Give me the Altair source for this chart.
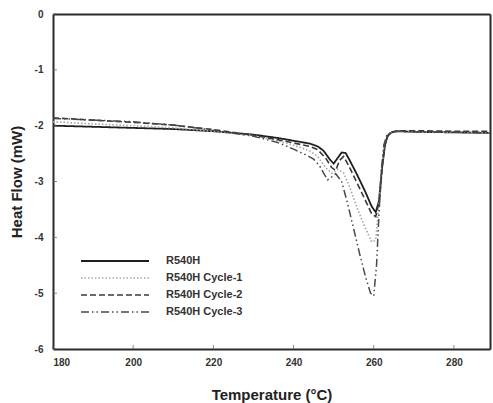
import altair as alt
import pandas as pd

# ---- data ----
series_names = ["R540H", "R540H Cycle-1", "R540H Cycle-2", "R540H Cycle-3"]

t_r540h = [180, 190, 200, 210, 220, 230, 236, 240, 244, 246, 247.5, 249, 250, 251, 252, 253, 254, 256, 258, 259.5,
           260.5, 261.3, 262, 262.8, 263.5, 264.5, 266, 270, 280, 289]
y_r540h = [-2.00, -2.02, -2.04, -2.06, -2.10, -2.16, -2.22, -2.27, -2.32, -2.37, -2.45, -2.60, -2.68, -2.58, -2.48,
           -2.49, -2.62, -2.90, -3.20, -3.45, -3.55, -3.35, -2.80, -2.35, -2.18, -2.12, -2.10, -2.11, -2.12, -2.13]

t_c1 = [180, 190, 200, 210, 220, 230, 236, 240, 244, 246, 248, 249.5, 251, 252.5, 254, 256, 258, 259.5, 260.5, 261.3,
        262, 263, 264, 266, 270, 280, 289]
y_c1 = [-1.93, -1.97, -2.00, -2.04, -2.10, -2.18, -2.27, -2.35, -2.45, -2.55, -2.75, -2.85, -2.78, -2.85, -3.10, -3.50,
        -3.85, -4.08, -4.05, -3.40, -2.70, -2.25, -2.13, -2.10, -2.11, -2.12, -2.13]

t_c2 = [180, 190, 200, 210, 220, 230, 236, 240, 244, 246, 248, 249.5, 250.5, 251.5, 252.5, 254, 256, 258, 259.5, 260.5,
        261.5, 262.3, 263, 264, 266, 270, 280, 289]
y_c2 = [-1.86, -1.90, -1.94, -1.99, -2.07, -2.17, -2.25, -2.31, -2.37, -2.43, -2.58, -2.75, -2.80, -2.62, -2.55, -2.75,
        -3.05, -3.35, -3.58, -3.63, -3.30, -2.60, -2.25, -2.12, -2.09, -2.09, -2.10, -2.10]

t_c3 = [180, 190, 200, 210, 220, 230, 236, 240, 243, 245, 246.5, 247.5, 248.5, 249.5, 250.5, 252, 253.5, 255, 256.5,
        258, 259.2, 260, 260.7, 261.3, 261.9, 262.5, 263.3, 264.5, 266, 270, 280, 289]
y_c3 = [-1.87, -1.90, -1.93, -1.99, -2.08, -2.19, -2.30, -2.42, -2.52, -2.60, -2.72, -2.85, -2.97, -2.92, -2.86, -3.00,
        -3.40, -3.85, -4.30, -4.72, -5.00, -5.05, -4.50, -3.60, -2.80, -2.35, -2.16, -2.11, -2.10, -2.11, -2.12, -2.13]

x_ticks = [180, 200, 220, 240, 260, 280]
y_ticks = [-6, -5, -4, -3, -2, -1, 0]

frames = []
for name, t, y in zip(series_names, [t_r540h, t_c1, t_c2, t_c3], [y_r540h, y_c1, y_c2, y_c3]):
    frames.append(pd.DataFrame({"T": t, "HF": y, "series": name}))
df = pd.concat(frames, ignore_index=True)

FONT = "Liberation Sans"
FRAME = "#2a2a2a"
x_scale = alt.Scale(domain=[180, 289], nice=False, zero=False)
y_scale = alt.Scale(domain=[-6, 0], nice=False, zero=False)


def make_legend():
    return alt.Legend(title=None, orient="none", legendX=52.5, legendY=237.5,
                      symbolType="M-4,0H4", symbolSize=289, symbolStrokeWidth=2.2,
                      rowPadding=2, labelOffset=41.5, labelFont=FONT, labelFontSize=11,
                      labelFontWeight="bold", labelColor="#333")


lines = alt.Chart(df).mark_line(strokeCap="butt").encode(
    x=alt.X("T:Q", scale=x_scale,
            axis=alt.Axis(values=x_ticks, title="Temperature (°C)", tickSize=0, labelPadding=8,
                          labelExpr="'' + datum.value", titlePadding=20, domain=True, grid=False,
                          domainColor=FRAME, domainWidth=2)),
    y=alt.Y("HF:Q", scale=y_scale,
            axis=alt.Axis(values=y_ticks, title="Heat Flow (mW)", tickSize=0, labelPadding=10,
                          labelExpr="'' + datum.value", titlePadding=10, domain=True, grid=False,
                          domainColor=FRAME, domainWidth=2)),
    color=alt.Color("series:N", scale=alt.Scale(domain=series_names,
                                                range=["#1e1e1e", "#a8a8a8", "#3a3a3a", "#4a4a4a"]),
                    legend=make_legend()),
    strokeDash=alt.StrokeDash("series:N", scale=alt.Scale(domain=series_names,
                                                          range=[[1, 0], [1.5, 2], [6, 3], [8, 3, 1.5, 3, 1.5, 3]]),
                              legend=make_legend()),
    strokeWidth=alt.StrokeWidth("series:N", scale=alt.Scale(domain=series_names, range=[1.8, 1.5, 2.2, 2.2]),
                                legend=None),
)

# inward tick marks; they also carry the top / right frame lines
frame_axis_x = alt.Axis(orient="top", labels=False, ticks=False, title=None, domain=True, grid=False,
                        domainColor=FRAME, domainWidth=2)
frame_axis_y = alt.Axis(orient="right", labels=False, ticks=False, title=None, domain=True, grid=False,
                        domainColor=FRAME, domainWidth=2)

xt = alt.Chart(pd.DataFrame({"v": x_ticks})).mark_tick(orient="vertical", size=4, thickness=1, color="#555",
                                                      yOffset=-2).encode(
    x=alt.X("v:Q", scale=x_scale, axis=frame_axis_x),
    y=alt.YDatum(-6, scale=y_scale, axis=None))
yt = alt.Chart(pd.DataFrame({"v": y_ticks})).mark_tick(orient="horizontal", size=4, thickness=1, color="#555",
                                                      xOffset=2).encode(
    y=alt.Y("v:Q", scale=y_scale, axis=frame_axis_y),
    x=alt.XDatum(180, scale=x_scale, axis=None))

chart = alt.layer(lines, xt, yt).resolve_axis(x="independent", y="independent").properties(
    width=437, height=335,
    background="white",
    autosize=alt.AutoSizeParams(type="none"),
    padding={"left": 53, "top": 14, "right": 3, "bottom": 54},
).configure_view(stroke="transparent", strokeWidth=0).configure_axis(
    labelFont=FONT, labelFontSize=10, labelFontWeight="bold", labelColor="#333",
    titleFont=FONT, titleFontSize=15, titleFontWeight="bold", titleColor="#222",
)

chart.save("out.html", embed_options={"renderer": "svg", "actions": False})
